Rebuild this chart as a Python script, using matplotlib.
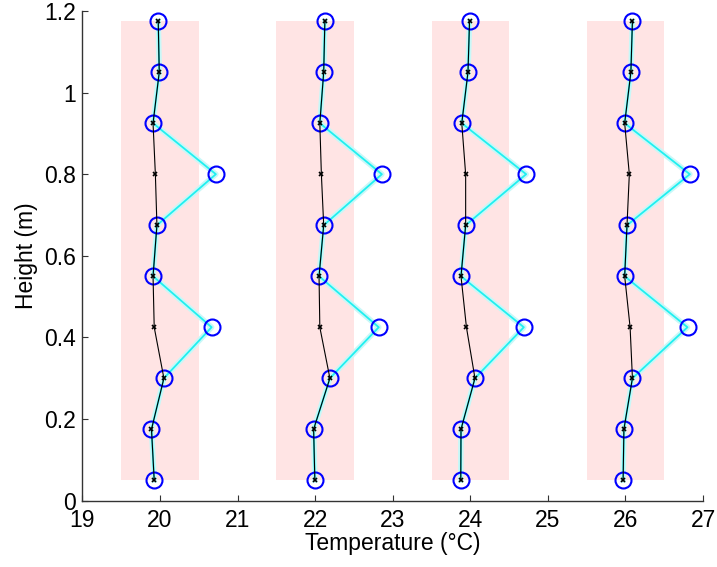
import numpy as np
import matplotlib.pyplot as plt
from matplotlib.patches import Rectangle

plt.rcParams['font.family'] = ['Liberation Sans', 'DejaVu Sans']

heights = [0.05, 0.175, 0.3, 0.425, 0.55, 0.675, 0.8, 0.925, 1.05, 1.175]

# measured profiles (cyan / blue circles)
meas_1 = [19.925, 19.89, 20.05, 20.665, 19.91, 19.96, 20.72, 19.91, 19.99, 19.977]
meas_2 = [21.996, 21.98, 22.19, 22.82, 22.05, 22.11, 22.86, 22.06, 22.11, 22.125]
meas_3 = [23.877, 23.88, 24.06, 24.69, 23.88, 23.94, 24.72, 23.89, 23.97, 23.99]
meas_4 = [25.97, 25.98, 26.09, 26.80, 25.99, 26.02, 26.83, 25.99, 26.07, 26.09]

# filtered profiles (black x)
filt_1 = [19.925, 19.89, 20.05, 19.925, 19.91, 19.96, 19.94, 19.91, 19.99, 19.977]
filt_2 = [21.996, 21.98, 22.19, 22.06, 22.05, 22.11, 22.08, 22.06, 22.11, 22.125]
filt_3 = [23.877, 23.88, 24.06, 23.95, 23.88, 23.94, 23.94, 23.89, 23.97, 23.99]
filt_4 = [25.97, 25.98, 26.09, 26.06, 25.99, 26.02, 26.05, 25.99, 26.07, 26.09]

# shaded bands (x start, x end)
bands = [(19.5, 20.5), (21.5, 22.5), (23.5, 24.5), (25.5, 26.5)]

fig = plt.figure(figsize=(7.17, 5.67), dpi=100)
ax = fig.add_axes([0.115, 0.117, 0.8655, 0.8636])

for x0, x1 in bands:
    ax.add_patch(Rectangle((x0, heights[0]), x1 - x0, heights[-1] - heights[0],
                           facecolor='#ffe4e4', edgecolor='none', zorder=0))

for meas, filt in [(meas_1, filt_1), (meas_2, filt_2), (meas_3, filt_3), (meas_4, filt_4)]:
    ax.plot(meas, heights, color='#c8f8f8', lw=4.0, zorder=1)
    ax.plot(meas, heights, color='#20f0f0', lw=1.3, zorder=2)
    ax.plot(meas, heights, ls='none', marker='o', ms=11.5, mfc='none', mec='blue', mew=1.5, zorder=3)
    ax.plot(filt, heights, color='black', lw=0.8, marker='x', ms=3.5, mew=1.2, zorder=4)

ax.set_xlim(19, 27)
ax.set_ylim(0, 1.2)
ax.set_xticks(range(19, 28))
ax.set_yticks([0, 0.2, 0.4, 0.6, 0.8, 1.0, 1.2])
ax.set_yticklabels(['0', '0.2', '0.4', '0.6', '0.8', '1', '1.2'])
ax.spines['top'].set_visible(False)
ax.spines['right'].set_visible(False)
for s in ['left', 'bottom']:
    ax.spines[s].set_color('#333333')
    ax.spines[s].set_linewidth(1.0)
ax.tick_params(direction='in', length=4, color='#333333', labelsize=16.5)
ax.tick_params(axis='x', pad=6)
ax.tick_params(axis='y', pad=5)
ax.set_xlabel('Temperature (°C)', fontsize=16.5, labelpad=0)
ax.set_ylabel('Height (m)', fontsize=16.5, labelpad=4)

fig.savefig('out.png', dpi=100)
